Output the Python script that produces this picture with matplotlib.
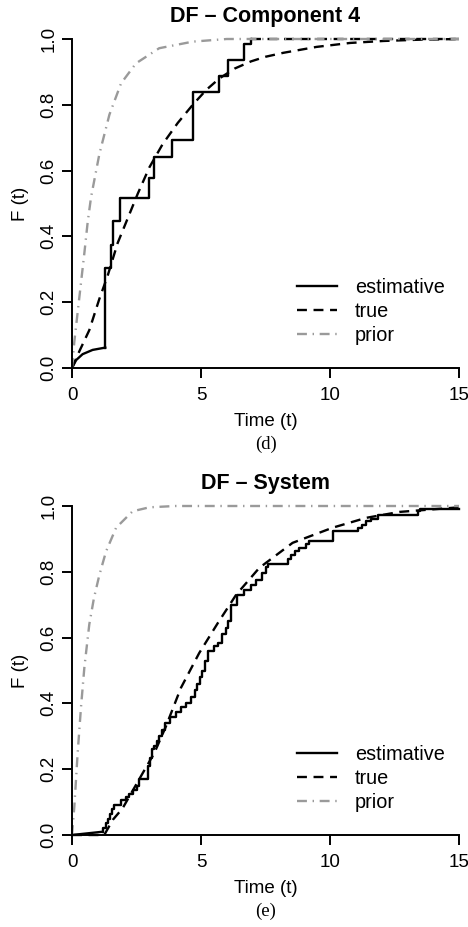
import numpy as np
import matplotlib
matplotlib.use("Agg")
import matplotlib.pyplot as plt

plt.rcParams['font.family'] = ['Liberation Sans', 'DejaVu Sans']

# ---- Component 4 (d) ----
c4_head_t = [0.0, 0.16, 0.41, 0.80, 1.29]
c4_head_F = [0.0, 0.024, 0.042, 0.055, 0.062]
c4_jump_t = [1.29, 1.29, 1.52, 1.60, 1.87, 2.97, 3.19, 3.88, 4.68, 5.68, 6.03, 6.68, 6.94]
c4_jump_F = [0.062, 0.303, 0.374, 0.448, 0.518, 0.577, 0.640, 0.693, 0.838, 0.888, 0.936, 0.985, 1.0]
c4_tail_t = [6.94, 15.0]
c4_tail_F = [1.0, 1.0]
c4_true_t = [0.0, 0.28, 0.67, 1.06, 1.38, 1.77, 2.29, 2.55, 3.0, 3.51, 4.1, 4.68, 5.2,
             5.71, 6.3, 6.94, 7.5, 8.19, 9.48, 10.78, 12.07, 13.5, 15.0]
c4_true_F = [0.0, 0.05, 0.115, 0.21, 0.28, 0.38, 0.48, 0.53, 0.61, 0.68, 0.745, 0.80, 0.845,
             0.88, 0.91, 0.932, 0.946, 0.958, 0.976, 0.988, 0.994, 0.998, 1.0]
c4_prior_t = [0.0, 0.09, 0.22, 0.35, 0.48, 0.61, 0.74, 1.06, 1.45, 1.9, 2.48, 3.38, 4.68, 6.0, 15.0]
c4_prior_F = [0.0, 0.08, 0.17, 0.26, 0.35, 0.445, 0.52, 0.65, 0.77, 0.865, 0.926, 0.972, 0.992, 1.0, 1.0]

# ---- System (e) ----
sys_head_t = [0.0, 0.6, 1.19]
sys_head_F = [0.0, 0.005, 0.01]
sys_jump_t = [1.19, 1.22, 1.30, 1.38, 1.46, 1.55, 1.62, 1.90, 2.10, 2.22, 2.35, 2.50, 2.61,
              2.93, 3.02, 3.12, 3.19, 3.30, 3.38, 3.50, 3.62, 3.80, 4.05, 4.22, 4.40, 4.61,
              4.75, 4.85, 4.95, 5.05, 5.15, 5.26, 5.50, 5.65, 5.80, 5.95, 6.05, 6.16, 6.40,
              6.65, 6.95, 7.13, 7.35, 7.52, 7.60, 8.36, 8.49, 8.65, 8.81, 9.07, 9.20, 10.10,
              11.10, 11.25, 11.40, 11.60, 11.85, 13.40, 13.50, 15.0]
sys_jump_F = [0.01, 0.02, 0.035, 0.05, 0.065, 0.078, 0.09, 0.107, 0.115, 0.125, 0.137, 0.15, 0.17,
              0.21, 0.235, 0.26, 0.27, 0.285, 0.30, 0.32, 0.34, 0.36, 0.375, 0.39, 0.40, 0.42,
              0.44, 0.46, 0.48, 0.50, 0.53, 0.56, 0.575, 0.585, 0.61, 0.63, 0.65, 0.70, 0.73,
              0.745, 0.76, 0.775, 0.795, 0.814, 0.824, 0.84, 0.852, 0.862, 0.873, 0.885, 0.893, 0.923,
              0.933, 0.943, 0.953, 0.962, 0.974, 0.985, 0.99, 0.99]
sys_true_t = [0.0, 1.25, 1.58, 1.96, 2.74, 3.19, 3.64, 4.22, 4.93, 5.65, 6.36, 7.26, 8.55,
              10.1, 11.4, 12.69, 15.0]
sys_true_F = [0.0, 0.0, 0.046, 0.081, 0.188, 0.249, 0.33, 0.447, 0.553, 0.644, 0.73, 0.812, 0.888,
              0.934, 0.964, 0.982, 0.996]
sys_prior_t = [0.0, 0.09, 0.22, 0.35, 0.48, 0.67, 0.85, 1.06, 1.32, 1.71, 2.35, 3.0, 4.0, 15.0]
sys_prior_F = [0.0, 0.086, 0.25, 0.39, 0.51, 0.64, 0.72, 0.79, 0.862, 0.934, 0.984, 0.996, 1.0, 1.0]

GRAY = '#9a9a9a'
LW = 1.7


def draw_panel(ax, title, tag, head, jumps, tail, true, prior):
    est, = ax.plot(head[0], head[1], color='black', lw=LW, clip_on=False)
    ax.step(jumps[0], jumps[1], where='post', color='black', lw=LW, clip_on=False)
    if tail is not None:
        ax.plot(tail[0], tail[1], color='black', lw=LW, dashes=(4.2, 2.8), clip_on=False)
    tr, = ax.plot(true[0], true[1], color='black', lw=LW, dashes=(4.2, 2.8), clip_on=False)
    pr, = ax.plot(prior[0], prior[1], color=GRAY, lw=LW, dashes=(4.2, 2.4, 0.6, 2.4), clip_on=False)

    ax.set_xlim(0, 15)
    ax.set_ylim(0, 1)
    for s in ['top', 'right']:
        ax.spines[s].set_visible(False)
    for s in ['left', 'bottom']:
        ax.spines[s].set_linewidth(1.4)
    ax.set_xticks([0, 5, 10, 15])
    ax.set_yticks([0, 0.2, 0.4, 0.6, 0.8, 1.0])
    ax.set_yticklabels(['0.0', '0.2', '0.4', '0.6', '0.8', '1.0'], rotation=90, va='center')
    ax.tick_params(direction='out', length=7.5, width=1.4, labelsize=13.5)
    ax.tick_params(axis='x', pad=6)
    ax.tick_params(axis='y', pad=3)
    ax.set_title(title, fontsize=15.5, fontweight='bold', pad=12)
    ax.set_xlabel('Time (t)', fontsize=13.5, labelpad=7)
    ax.set_ylabel('F (t)', fontsize=13.5, labelpad=8)
    ax.text(0.5, -0.233, tag, transform=ax.transAxes, ha='center', va='center',
            fontsize=13.5, family='Liberation Serif')
    ax.legend([est, tr, pr], ['estimative', 'true', 'prior'], loc='upper left',
              bbox_to_anchor=(0.557, 0.305), frameon=False, fontsize=14.3,
              handlelength=2.0, handletextpad=0.9, labelspacing=0.25, borderpad=0)


fig = plt.figure(figsize=(4.68, 9.27), dpi=100)
ax1 = fig.add_axes([72 / 468, 1 - 368 / 927, 387 / 468, 329 / 927])
ax2 = fig.add_axes([72 / 468, 1 - 835 / 927, 387 / 468, 329 / 927])

draw_panel(ax1, 'DF \u2013 Component 4', '(d)',
           (c4_head_t, c4_head_F), (c4_jump_t, c4_jump_F), (c4_tail_t, c4_tail_F),
           (c4_true_t, c4_true_F), (c4_prior_t, c4_prior_F))
draw_panel(ax2, 'DF \u2013 System', '(e)',
           (sys_head_t, sys_head_F), (sys_jump_t, sys_jump_F), None,
           (sys_true_t, sys_true_F), (sys_prior_t, sys_prior_F))

fig.savefig('out.png', dpi=100)
